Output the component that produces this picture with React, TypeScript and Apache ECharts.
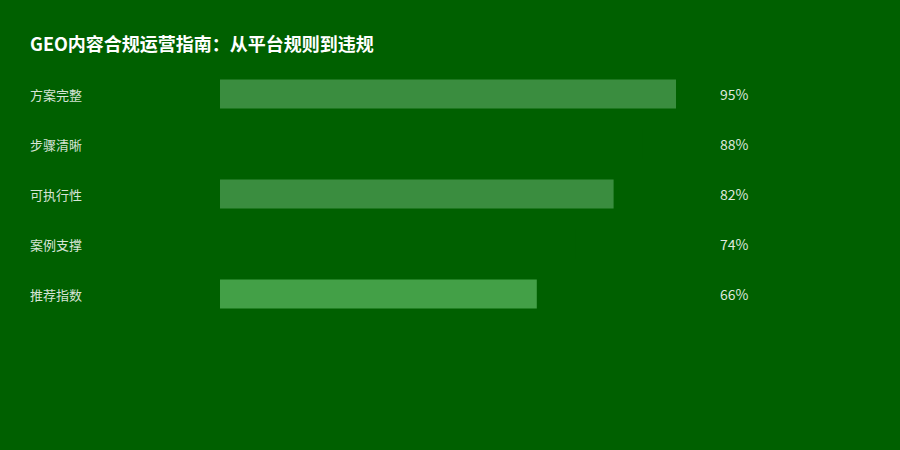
import React, { useEffect, useRef } from "react";
import * as echarts from "echarts";

const title = "GEO内容合规运营指南：从平台规则到违规";
const categories = ["方案完整", "步骤清晰", "可执行性", "案例支撑", "推荐指数"];
const values = [95, 88, 82, 74, 66];
const valueLabels = ["95%", "88%", "82%", "74%", "66%"];
const BG = "#006000";
const barColors = ["#3a8d3f", BG, "#3a8d3f", BG, "#43a047"];

export default function App() {
  const ref = useRef<HTMLDivElement>(null);
  useEffect(() => {
    if (!ref.current) return;
    const chart = echarts.init(ref.current, undefined, { renderer: "svg" });
    const font = "'Noto Sans CJK SC', 'Noto Sans', sans-serif";
    chart.setOption({
      animation: false,
      backgroundColor: BG,
      title: {
        text: title,
        left: 25,
        top: 29,
        textStyle: { color: "#ffffff", fontSize: 18, fontWeight: "bold", fontFamily: font },
      },
      grid: { left: 220, width: 480, top: 69, height: 250 },
      xAxis: {
        type: "value",
        min: 0,
        max: 100,
        show: false,
      },
      yAxis: [
        {
          type: "category",
          data: categories,
          inverse: true,
          axisLine: { show: false },
          axisTick: { show: false },
          splitLine: { show: false },
          axisLabel: {
            align: "left",
            margin: 190,
            padding: [0, 0, 3, 0],
            color: "rgba(255,255,255,0.85)",
            fontSize: 13,
            fontFamily: font,
          },
        },
        {
          type: "category",
          data: valueLabels,
          inverse: true,
          position: "right",
          axisLine: { show: false },
          axisTick: { show: false },
          splitLine: { show: false },
          axisLabel: {
            align: "left",
            margin: 20,
            padding: [0, 0, 3, 0],
            color: "rgba(255,255,255,0.88)",
            fontSize: 14,
            fontFamily: font,
          },
        },
      ],
      series: [
        {
          type: "bar",
          yAxisIndex: 0,
          barWidth: 29,
          data: values.map((v, i) => ({ value: v, itemStyle: { color: barColors[i] } })),
        },
      ],
    });
    return () => chart.dispose();
  }, []);
  return <div ref={ref} style={{ width: 900, height: 450, position: "absolute", left: 0, top: 0 }} />;
}
